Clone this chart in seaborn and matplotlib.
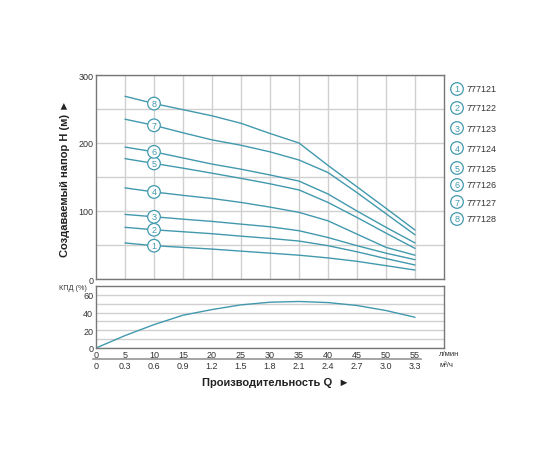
import numpy as np
import pandas as pd
import matplotlib
matplotlib.use("Agg")
import matplotlib.pyplot as plt
import seaborn as sns

# ---- data ----
flow_lpm = [5, 10, 15, 20, 25, 30, 35, 40, 45, 50, 55]
models = ["777121", "777122", "777123", "777124", "777125", "777126", "777127", "777128"]
head_1 = [53, 49, 46.5, 44, 41, 38, 35, 31, 26, 19.6, 13.2]
head_2 = [76, 72.4, 69.5, 66.6, 63, 59.7, 55.8, 49, 40, 30, 20.6]
head_3 = [95, 91.5, 88, 84.7, 80.7, 76.8, 71, 61, 49, 38, 28.4]
head_4 = [134, 128, 123, 118.4, 112.6, 105.7, 98, 85.6, 66, 46.5, 35]
head_5 = [177, 170, 163, 155.6, 148, 140, 131, 112.6, 90.5, 67.5, 45]
head_6 = [194, 187, 178, 169, 161.5, 153, 144, 125, 100, 76, 53]
head_7 = [235, 226, 215, 204.6, 196.7, 187, 175, 156.6, 127, 96, 65]
head_8 = [268.7, 258, 249, 240, 229, 214, 200, 167, 135.6, 104, 72]
heads = [head_1, head_2, head_3, head_4, head_5, head_6, head_7, head_8]

eff_flow = [0, 5, 10, 15, 20, 25, 30, 35, 40, 45, 50, 55]
efficiency = [0, 14, 26.4, 37, 43.4, 48.7, 51.7, 52.5, 51.3, 48, 42.3, 34.7]

x_ticks = [0, 5, 10, 15, 20, 25, 30, 35, 40, 45, 50, 55]
m3h_labels = ["0", "0.3", "0.6", "0.9", "1.2", "1.5", "1.8", "2.1", "2.4", "2.7", "3.0", "3.3"]
head_ticks = [0, 100, 200, 300]
eff_ticks = [0, 20, 40, 60]

# ---- style ----
sns.set_theme(style="white")
plt.rcParams["font.family"] = ["Liberation Sans", "DejaVu Sans"]
teal = "#4299ae"
grid_c = "#d0d0d0"
spine_c = "#777777"
txt_c = "#333333"

rows = []
for m, h in zip(models, heads):
    for q, v in zip(flow_lpm, h):
        rows.append({"model": m, "Q": q, "H": v})
df = pd.DataFrame(rows)
df_eff = pd.DataFrame({"Q": eff_flow, "eff": efficiency})

fig = plt.figure(figsize=(5.6, 4.6), dpi=100)
fig.patch.set_facecolor("white")
ax = fig.add_axes([96/560, 1-280/460, (444-96)/560, (280-76)/460])
axb = fig.add_axes([96/560, 1-349/460, (444-96)/560, (349-287)/460])

sns.lineplot(data=df, x="Q", y="H", units="model", estimator=None,
             color=teal, lw=1.0, ax=ax, legend=False)
sns.lineplot(data=df_eff, x="Q", y="eff", color=teal, lw=1.0, ax=axb, legend=False)

for a in (ax, axb):
    a.set_xlim(0, 60)
    a.set_xticks(np.arange(5, 60, 5), minor=True)
    a.grid(True, which="minor", axis="x", color=grid_c, lw=1)
    a.set_xlabel("")
    a.set_ylabel("")
    for s in a.spines.values():
        s.set_color(spine_c)
        s.set_linewidth(1)
    a.tick_params(which="both", length=0, labelsize=6.5, colors=txt_c, pad=2)

ax.set_ylim(0, 300)
ax.set_yticks(head_ticks)
ax.set_yticks([50, 150, 250], minor=True)
ax.grid(True, which="both", axis="y", color=grid_c, lw=1)
ax.set_xticks([])
ax.set_xticks(np.arange(5, 60, 5), minor=True)
ax.tick_params(axis="x", which="both", labelbottom=False)

axb.set_ylim(0, 70)
axb.set_yticks(eff_ticks)
axb.set_yticks([10, 30, 50], minor=True)
axb.grid(True, which="both", axis="y", color=grid_c, lw=1)
axb.set_xticks(x_ticks)
axb.set_xticklabels([str(t) for t in x_ticks])
axb.tick_params(axis="x", pad=1.5)

sec = axb.secondary_xaxis(-0.17)
sec.set_xticks(x_ticks)
sec.set_xticklabels(m3h_labels)
sec.tick_params(length=0, labelsize=6.5, colors=txt_c, pad=1.5)
sec.spines["bottom"].set_color("#999999")
sec.spines["bottom"].set_bounds(-0.5, 56)

# numbered markers on curves
for i, h in enumerate(heads):
    ax.text(flow_lpm[1], h[1], str(i + 1), ha="center", va="center",
            fontsize=6.5, color=teal, zorder=5,
            bbox=dict(boxstyle="circle,pad=0.2", fc="white", ec=teal, lw=0.9))

# legend
leg_y = [90, 109, 129, 149, 169, 186, 203, 220]
for i, m in enumerate(models):
    y = 1 - leg_y[i] / 460
    fig.text(457/560, y, str(i + 1), ha="center", va="center", fontsize=6.5,
             color=teal, bbox=dict(boxstyle="circle,pad=0.2", fc="white", ec=teal, lw=0.9))
    fig.text(467/560, y, m, ha="left", va="center", fontsize=6.5, color=txt_c)

fig.text(65/560, 1 - 178/460, "Создаваемый напор Н (м) ►", rotation=90,
         ha="center", va="center", fontsize=8, fontweight="bold", color="#222222")
fig.text(276/560, 1 - 383/460, "Производительность Q  ►", ha="center", va="center",
         fontsize=8, fontweight="bold", color="#222222")
fig.text(87/560, 1 - 289/460, "КПД (%)", ha="right", va="center", fontsize=5.2, color=txt_c)
fig.text(439/560, 1 - 355/460, "л/мин", ha="left", va="center", fontsize=5.5, color=txt_c)
fig.text(439/560, 1 - 366/460, "м³/ч", ha="left", va="center", fontsize=5.5, color=txt_c)

fig.savefig("out.png", dpi=100, facecolor="white")
